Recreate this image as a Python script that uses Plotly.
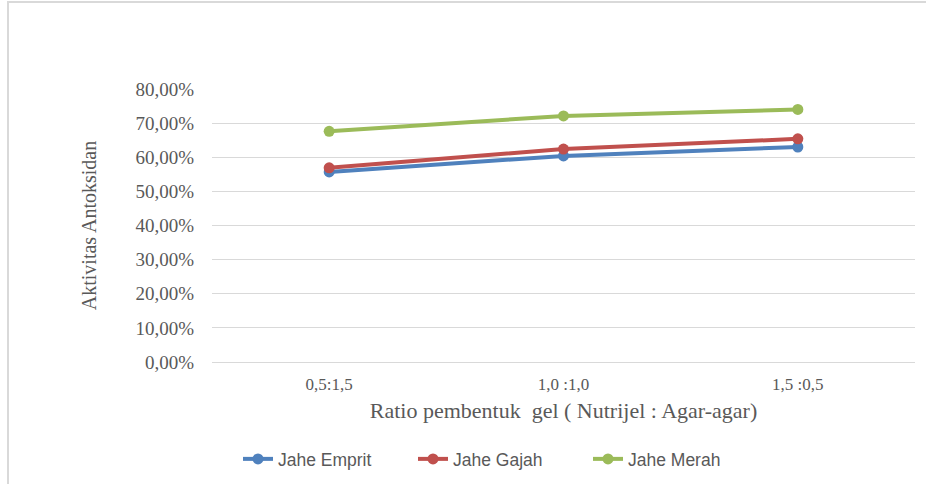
import plotly.graph_objects as go

categories = ["0,5:1,5", "1,0 :1,0", "1,5 :0,5"]
jahe_emprit = [0.557, 0.604, 0.630]
jahe_gajah = [0.569, 0.624, 0.654]
jahe_merah = [0.676, 0.721, 0.740]
y_ticks = [0, 0.1, 0.2, 0.3, 0.4, 0.5, 0.6, 0.7, 0.8]
y_tick_labels = ["0,00%", "10,00%", "20,00%", "30,00%", "40,00%", "50,00%", "60,00%", "70,00%", "80,00%"]

series = [
    ("Jahe Emprit", jahe_emprit, "#4F81BD"),
    ("Jahe Gajah", jahe_gajah, "#C0504D"),
    ("Jahe Merah", jahe_merah, "#9BBB59"),
]

fig = go.Figure()
for name, vals, col in series:
    fig.add_trace(go.Scatter(
        x=categories, y=vals, name=name, mode="lines+markers",
        line=dict(color=col, width=4),
        marker=dict(color=col, size=11, symbol="circle"),
    ))

W, H = 926, 484
ml, mr, mt, mb = 212, 11, 89, 122
pw, ph = W - ml - mr, H - mt - mb

def px(x):
    return (x - ml) / pw

def py(y):
    return (H - mb - y) / ph

fig.update_layout(
    width=W, height=H,
    margin=dict(l=ml, r=mr, t=mt, b=mb, autoexpand=False),
    paper_bgcolor="white", plot_bgcolor="white",
    font=dict(family="Liberation Serif", color="#595959"),
    xaxis=dict(
        type="category", range=[-0.5, 2.5], showgrid=False, showline=False,
        zeroline=False, ticks="", ticklabelstandoff=10, automargin=False,
        tickfont=dict(family="Liberation Serif", size=17, color="#595959"),
        title=dict(text="Ratio pembentuk  gel ( Nutrijel : Agar-agar)",
                   font=dict(family="Liberation Serif", size=22, color="#595959"), standoff=9),
    ),
    yaxis=dict(
        range=[0, 0.8], tickvals=y_ticks, ticktext=y_tick_labels,
        showgrid=True, gridcolor="#D9D9D9", gridwidth=1, zeroline=True,
        zerolinecolor="#D9D9D9", zerolinewidth=1, showline=False, ticks="",
        ticklabelstandoff=17, automargin=False,
        tickfont=dict(family="Liberation Serif", size=19, color="#595959"),
        title=dict(text="Aktivitas Antoksidan",
                   font=dict(family="Liberation Serif", size=20, color="#595959"), standoff=33),
    ),
    showlegend=True,
    legend=dict(
        orientation="h", x=px(238), xanchor="left", y=py(459), yanchor="middle",
        font=dict(family="Liberation Sans", size=17.5, color="#595959"),
        itemwidth=30, entrywidth=130, bgcolor="rgba(0,0,0,0)",
    ),
    shapes=[dict(type="rect", xref="paper", yref="paper",
                 x0=px(8), x1=px(940), y0=py(2), y1=py(500),
                 line=dict(color="#D9D9D9", width=2), fillcolor="rgba(0,0,0,0)", layer="below")],
)

fig.write_html("out.html")
